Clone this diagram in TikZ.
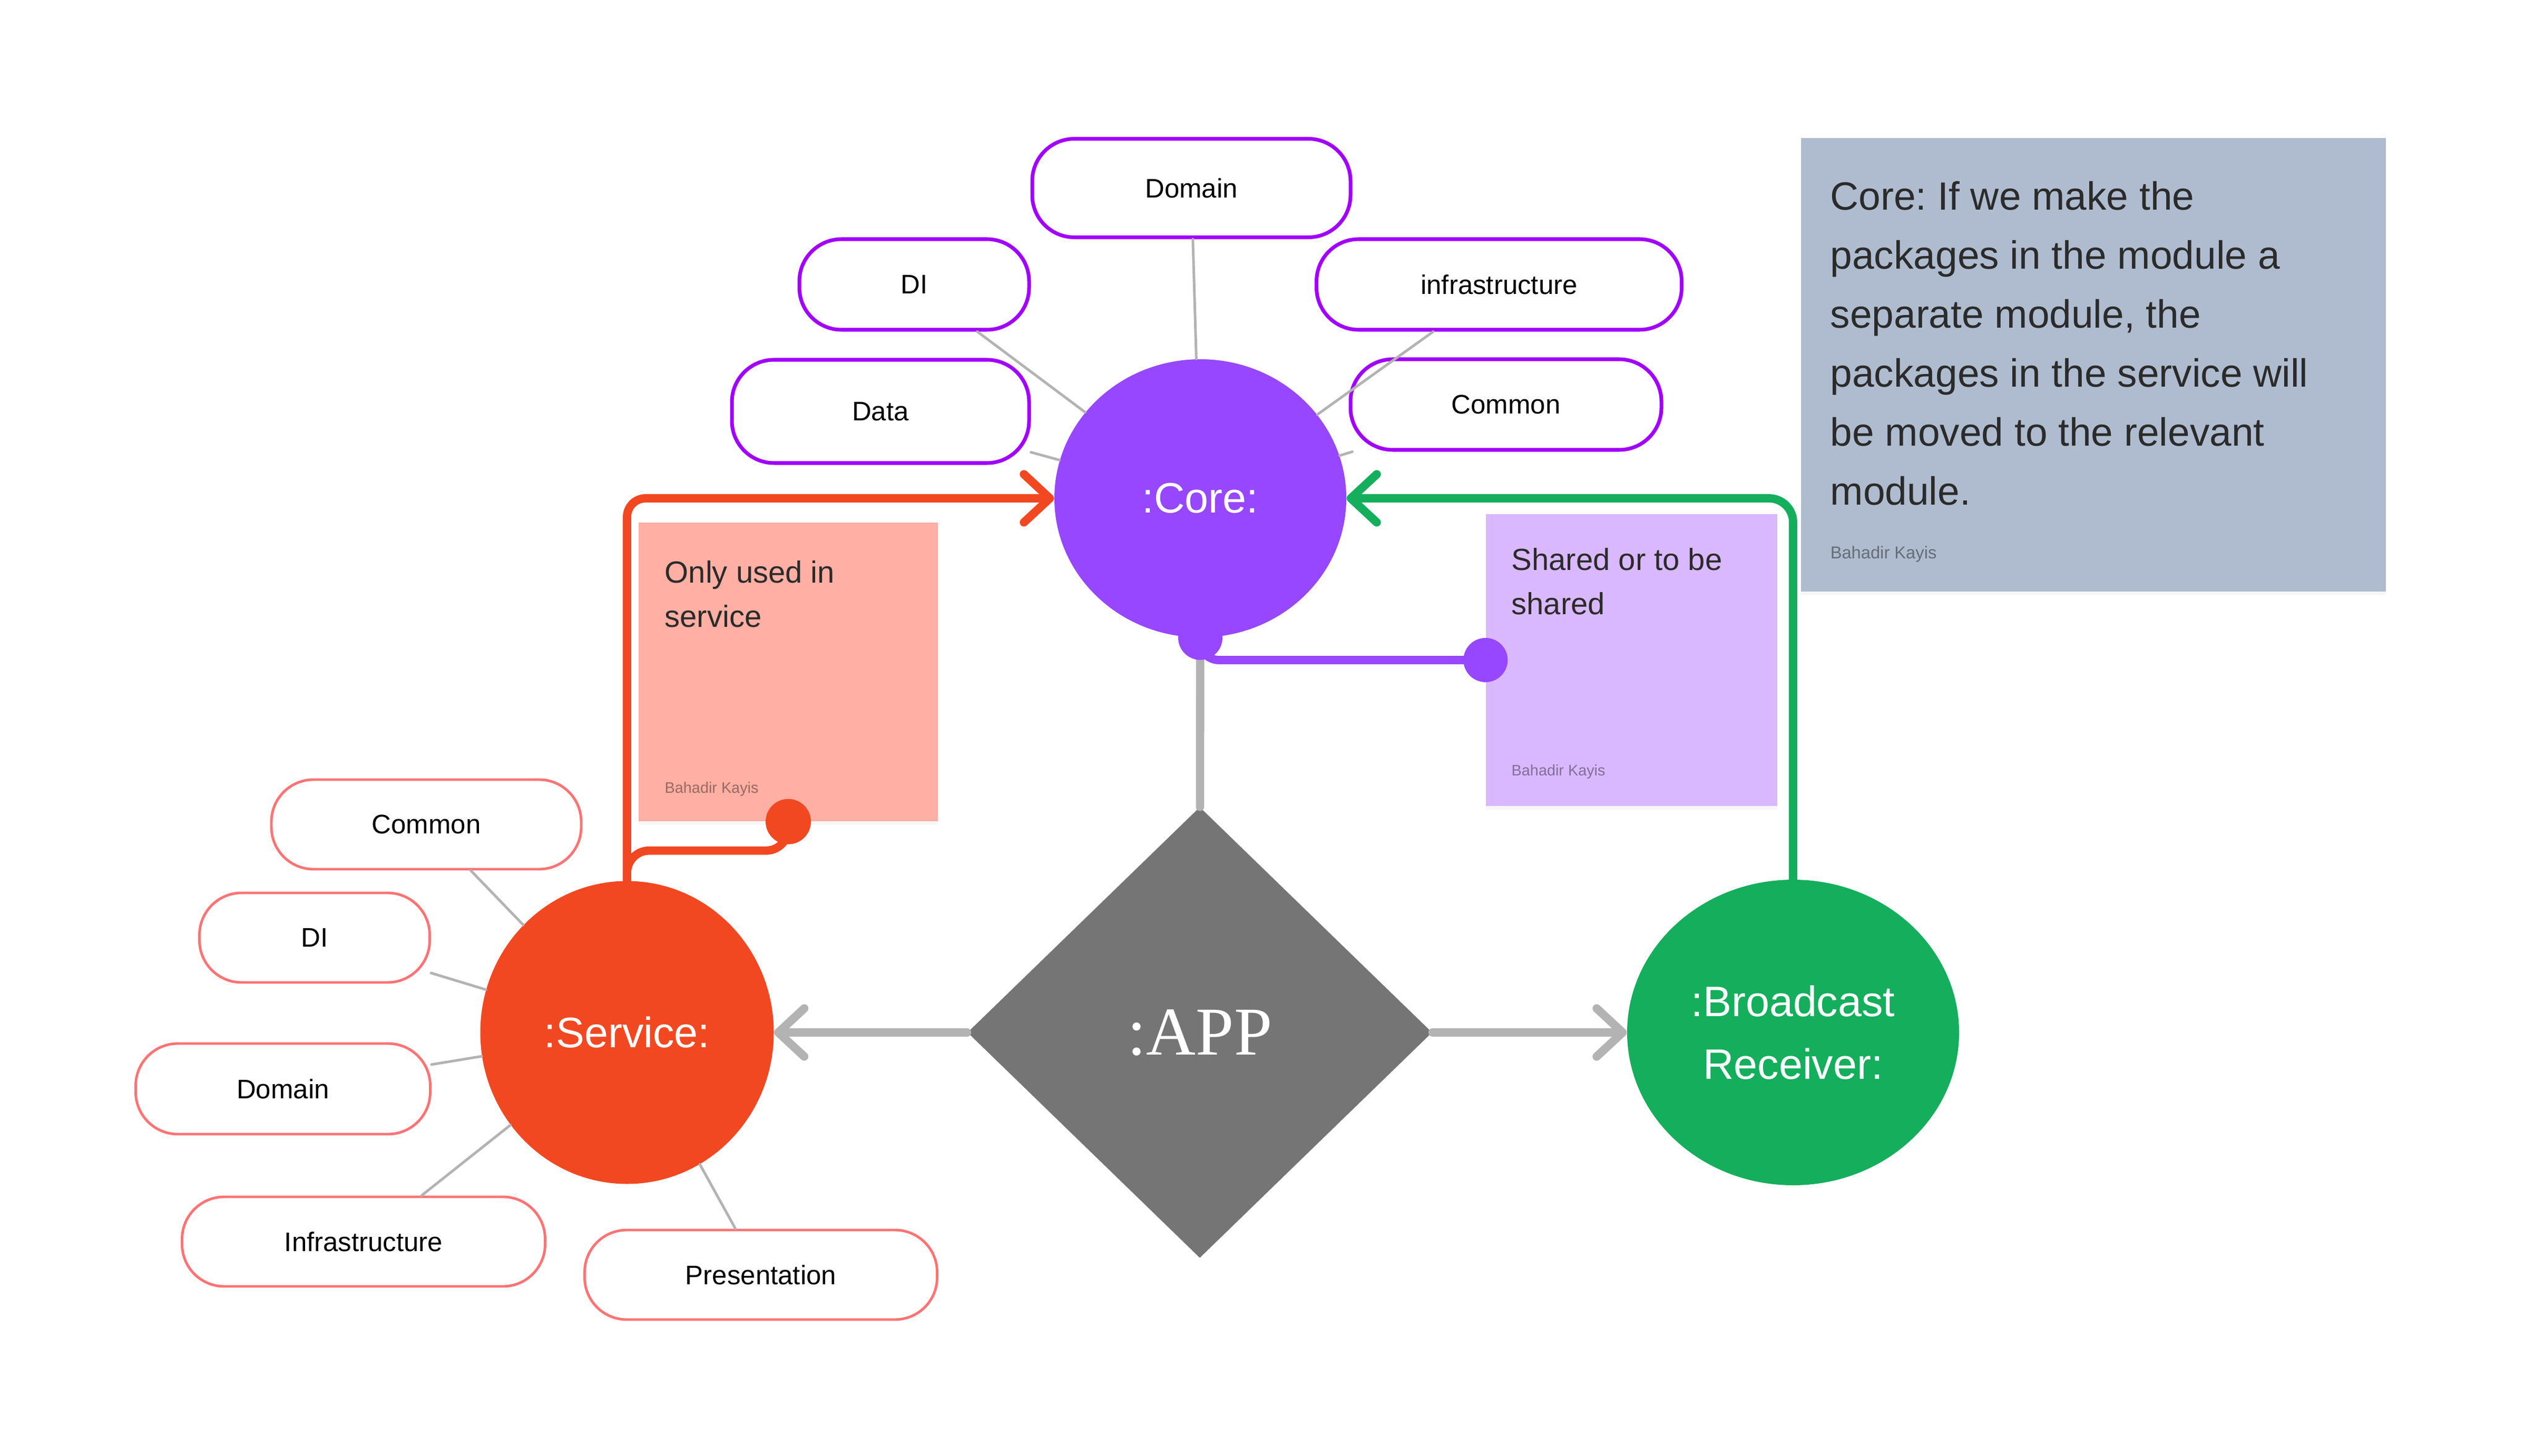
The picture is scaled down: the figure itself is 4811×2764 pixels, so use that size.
\documentclass[tikz,border=0pt]{standalone}
\usepackage{fontspec}
\setmainfont{Liberation Sans}
\newfontfamily\appfont{Liberation Serif}
\frenchspacing
\usepackage{tikz}
\usetikzlibrary{shapes.geometric, arrows.meta, calc, shadows}
\definecolor{CoreViolet}{HTML}{9747FF}
\definecolor{PillViolet}{HTML}{A100FF}
\definecolor{ServiceRed}{HTML}{F24822}
\definecolor{PillSalmon}{HTML}{FF7373}
\definecolor{ReceiverGreen}{HTML}{14AE5C}
\definecolor{AppGray}{HTML}{757575}
\definecolor{LinkGray}{HTML}{B3B3B3}
\definecolor{NoteRed}{HTML}{FFAFA3}
\definecolor{NoteViolet}{HTML}{D9B8FF}
\definecolor{NoteSlate}{HTML}{AFBCCF}
\definecolor{NoteInk}{HTML}{2B2B2B}
\tikzset{
  modulenode/.style={ellipse, inner sep=0pt, text=white, font=\fontsize{23}{34}\selectfont, align=center},
  appnode/.style={diamond, fill=AppGray, inner sep=0pt, minimum width=88.2mm, minimum height=85.6mm, text=white, font=\appfont\fontsize{37}{40}\selectfont},
  corepill/.style={rectangle, rounded corners=8mm, draw=PillViolet, line width=2pt, fill=white, minimum height=17.2mm, font=\fontsize{14.5}{17}\selectfont},
  servicepill/.style={rectangle, rounded corners=8mm, draw=PillSalmon, line width=1.4pt, fill=white, minimum height=17mm, font=\fontsize{14.5}{17}\selectfont},
  stickynote/.style={rectangle, inner sep=0pt, drop shadow={shadow xshift=0pt, shadow yshift=-2pt, opacity=0.06}},
  notetext/.style={anchor=base west, inner sep=0pt, align=left, text=NoteInk, font=\fontsize{16.5}{24}\selectfont},
  authortext/.style={anchor=base west, inner sep=0pt, font=\fontsize{8.2}{10}\selectfont},
  spoke/.style={draw=LinkGray, line width=1.4pt, line cap=round},
  link/.style={line width=4.5pt, line cap=round},
  linkarrow/.style={link, -{Straight Barb[length=14pt, width=26pt, round]}}
}

\begin{document}
\begin{tikzpicture}[x=0.1mm, y=-0.1mm]
  \fill[white] (0,0) rectangle (4811,2764);
  \useasboundingbox (0,0) rectangle (4811,2764);

  \node[stickynote, fill=NoteRed, minimum width=56.8mm, minimum height=56.7mm] (onlyService) at (1496,1275.5) {};
  \node[stickynote, fill=NoteViolet, minimum width=55.3mm, minimum height=55.4mm] (shared) at (3096.5,1253) {};
  \node[stickynote, fill=NoteSlate, minimum width=111mm, minimum height=86.1mm] (coreNote) at (3973,692.5) {};

  \node[notetext] (onlyServiceText) at (1261,1191) {Only used in\\service};
  \node[authortext, text=NoteRed!60!black] (onlyServiceAuthor) at (1261,1505) {Bahadir Kayis};
  \node[notetext] (sharedText) at (2868,1167) {Shared or to be\\shared};
  \node[authortext, text=NoteViolet!60!black] (sharedAuthor) at (2868,1472) {Bahadir Kayis};
  \node[notetext, font=\fontsize{21.3}{31.9}\selectfont] (coreNoteText) at (3473,959) {Core: If we make the\\packages in the module a\\separate module, the\\packages in the service will\\be moved to the relevant\\module.};
  \node[authortext, font=\fontsize{9.3}{11}\selectfont, text=NoteSlate!58!black] (coreNoteAuthor) at (3473,1061) {Bahadir Kayis};

  \node[modulenode, fill=CoreViolet, minimum width=55.4mm, minimum height=52.8mm] (core) at (2278,946) {:Core:};
  \node[modulenode, fill=ServiceRed, minimum width=55.7mm, minimum height=57.5mm] (service) at (1190,1960) {:Service:};
  \node[modulenode, fill=ReceiverGreen, minimum width=63mm, minimum height=58mm] (broadcast) at (3403,1960) {:Broadcast\\Receiver:};
  \node[appnode] (app) at (2277,1960) {:APP};

  \node[corepill, minimum width=60.4mm, minimum height=18.7mm] (coreDomain) at (2261,357) {Domain};
  \node[corepill, minimum width=43.6mm] (coreDI) at (1735,540) {DI};
  \node[corepill, minimum width=56.4mm, minimum height=19.6mm] (coreData) at (1671,781) {Data};
  \node[corepill, minimum width=69.3mm] (coreInfra) at (2845,540) {infrastructure};
  \node[corepill, minimum width=59mm] (coreCommon) at (2858,768) {Common};

  \node[servicepill, minimum width=58.8mm] (svcCommon) at (809,1565) {Common};
  \node[servicepill, minimum width=43.7mm] (svcDI) at (597,1780) {DI};
  \node[servicepill, minimum width=55.9mm, minimum height=17.2mm] (svcDomain) at (537,2067) {Domain};
  \node[servicepill, minimum width=68.9mm] (svcInfra) at (690,2357) {Infrastructure};
  \node[servicepill, minimum width=66.9mm] (svcPresentation) at (1444,2420) {Presentation};

  \foreach \pill in {coreDomain, coreDI, coreData, coreInfra, coreCommon}
    \draw[spoke] (\pill) -- (core);
  \foreach \pill in {svcCommon, svcDI, svcDomain, svcInfra, svcPresentation}
    \draw[spoke] (\pill) -- (service);

  \draw[link, LinkGray] (core) -- (app);
  \draw[linkarrow, LinkGray] (app) -- (service);
  \draw[linkarrow, LinkGray] (app) -- (broadcast);

  \draw[linkarrow, ServiceRed, rounded corners=10pt] (service.north) |- (core.west);
  \draw[link, ServiceRed, rounded corners=12pt] (service.north) |- ($(onlyService.south)+(0,55)$) -- (onlyService.south);
  \fill[ServiceRed] (onlyService.south) circle (4.3mm);

  \draw[linkarrow, ReceiverGreen, rounded corners=13pt] (broadcast.north) |- (core.east);

  \draw[link, CoreViolet, rounded corners=10pt] (core.south) |- (shared.west);
  \fill[CoreViolet] (core.south) circle (4.2mm);
  \fill[CoreViolet] (shared.west) circle (4.2mm);
\end{tikzpicture}
\end{document}
